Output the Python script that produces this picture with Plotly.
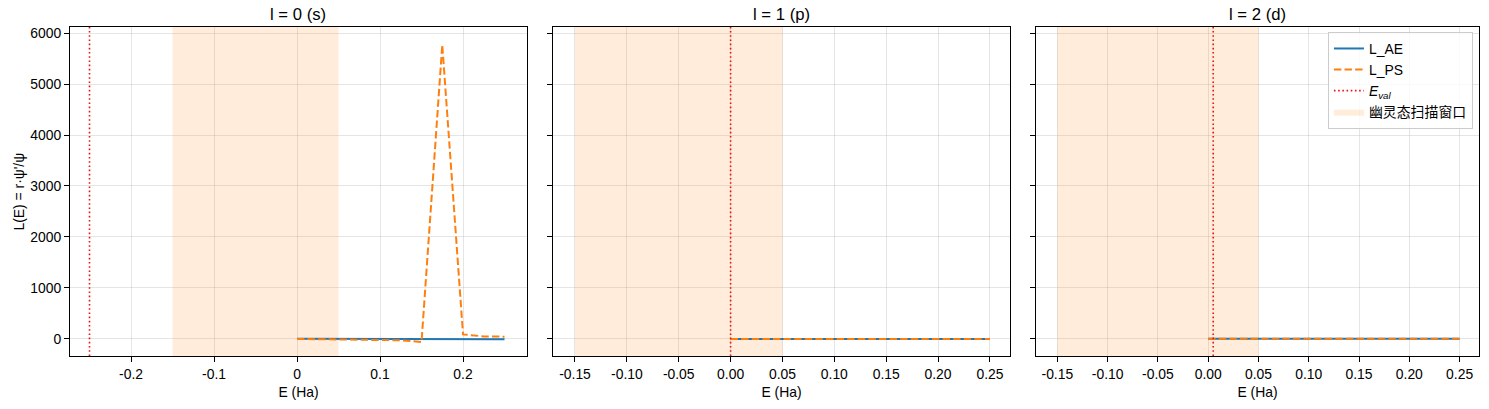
import plotly.graph_objects as go

# ---------------- data ----------------
E_grid = [0.0, 0.025, 0.05, 0.075, 0.1, 0.125, 0.15, 0.175, 0.2, 0.225, 0.25]

L_AE_l0 = [5, 4, 3, 2, 1, 0, -1, -2, -3, -4, -5]
L_PS_l0 = [0, -3, -6, -10, -15, -25, -60, 5770, 90, 50, 45]

L_AE_l1 = [1, 1, 1, 1, 1, 1, 1, 1, 1, 1, 1]
L_PS_l1 = [1, 1, 1, 1, 1, 1, 1, 1, 1, 1, 1]

L_AE_l2 = [2, 2, 2, 2, 2, 2, 2, 2, 2, 2, 2]
L_PS_l2 = [2, 2, 2, 2, 2, 2, 2, 2, 2, 2, 2]

E_val = [-0.25, 0.0, 0.005]
window = [-0.15, 0.05]
titles = ["l = 0 (s)", "l = 1 (p)", "l = 2 (d)"]
y_title = "L(E) = r·ψ'/ψ"
x_title = "E (Ha)"

x_ticks_l0 = [-0.2, -0.1, 0.0, 0.1, 0.2]
x_ticktext_l0 = ["-0.2", "-0.1", "0", "0.1", "0.2"]
x_ticks_l12 = [-0.15, -0.10, -0.05, 0.0, 0.05, 0.10, 0.15, 0.20, 0.25]
x_ticktext_l12 = ["-0.15", "-0.10", "-0.05", "0.00", "0.05", "0.10", "0.15", "0.20", "0.25"]
y_ticks = [0, 1000, 2000, 3000, 4000, 5000, 6000]

x_ranges = [[-0.2735, 0.277], [-0.1712, 0.2693], [-0.1712, 0.2693]]
y_range = [-334, 6118]

# ---------------- figure ----------------
FONT = "Liberation Sans, Arial, Noto Sans CJK SC, sans-serif"
BLUE = "#1f77b4"
ORANGE = "#ff7f0e"

fig = go.Figure()

series = [(L_AE_l0, L_PS_l0), (L_AE_l1, L_PS_l1), (L_AE_l2, L_PS_l2)]
domains = [[0.0, 0.3243], [0.3428, 0.6671], [0.6856, 1.0]]

for i in range(3):
    xa = "x" if i == 0 else f"x{i+1}"
    ya = "y" if i == 0 else f"y{i+1}"
    show = (i == 2)
    ae, ps = series[i]
    fig.add_trace(go.Scatter(
        x=[window[0], window[1], window[1], window[0], window[0]],
        y=[y_range[0], y_range[0], y_range[1], y_range[1], y_range[0]],
        fill="toself", fillcolor="rgba(255,127,14,0.15)",
        line=dict(width=0), mode="lines", name="幽灵态扫描窗口",
        showlegend=show, legendrank=4, xaxis=xa, yaxis=ya, hoverinfo="skip"))
    fig.add_trace(go.Scatter(
        x=E_grid, y=ae, mode="lines", line=dict(color=BLUE, width=2),
        name="L_AE", showlegend=show, legendrank=1, xaxis=xa, yaxis=ya))
    fig.add_trace(go.Scatter(
        x=E_grid, y=ps, mode="lines",
        line=dict(color=ORANGE, width=2, dash="7.4px,3.2px"),
        name="L_PS", showlegend=show, legendrank=2, xaxis=xa, yaxis=ya))
    fig.add_trace(go.Scatter(
        x=[E_val[i], E_val[i]], y=y_range, mode="lines",
        line=dict(color="#ee1111", width=1.6, dash="1.6px,2.6px"),
        name="<i>E<sub>val</sub></i>", showlegend=show, legendrank=3,
        xaxis=xa, yaxis=ya))

axis_common = dict(
    showline=True, linecolor="black", linewidth=1, mirror=True,
    ticks="outside", ticklen=5, tickwidth=1, tickcolor="black",
    showgrid=True, gridcolor="rgba(176,176,176,0.33)", gridwidth=1,
    zeroline=False, automargin=False,
    tickfont=dict(size=13.9, color="black", family=FONT),
)

layout = dict(
    width=1489, height=409,
    margin=dict(l=70, r=10, t=27, b=53, autoexpand=False),
    plot_bgcolor="white", paper_bgcolor="white",
    font=dict(family=FONT, size=13.9, color="black"),
    legend=dict(
        x=0.9957, y=0.985, xanchor="right", yanchor="top",
        bgcolor="rgba(255,255,255,0.8)", bordercolor="#cccccc", borderwidth=1,
        font=dict(size=13.9, family=FONT), itemwidth=30, tracegroupgap=0,
    ),
    annotations=[],
)

for i in range(3):
    xk = "xaxis" if i == 0 else f"xaxis{i+1}"
    yk = "yaxis" if i == 0 else f"yaxis{i+1}"
    ya_id = "y" if i == 0 else f"y{i+1}"
    xa_id = "x" if i == 0 else f"x{i+1}"
    tv = x_ticks_l0 if i == 0 else x_ticks_l12
    tt = x_ticktext_l0 if i == 0 else x_ticktext_l12
    layout[xk] = dict(
        axis_common, domain=domains[i], anchor=ya_id, range=x_ranges[i],
        tickvals=tv, ticktext=tt,
        title=dict(text=x_title, font=dict(size=13.9, family=FONT), standoff=6),
    )
    layout[yk] = dict(
        axis_common, domain=[0, 1], anchor=xa_id, range=y_range,
        tickvals=y_ticks, showticklabels=(i == 0),
    )
    layout["annotations"].append(dict(
        text=titles[i], xref="paper", yref="paper",
        x=(domains[i][0] + domains[i][1]) / 2, y=1, xanchor="center", yanchor="bottom",
        yshift=1, showarrow=False, font=dict(size=16.7, family=FONT, color="black"),
    ))

# y-axis title placed where the reference has it
layout["annotations"].append(dict(
    text=y_title, xref="paper", yref="paper", x=-0.0369, y=0.5,
    xanchor="center", yanchor="middle", textangle=-90, showarrow=False,
    font=dict(size=13.9, family=FONT, color="black"),
))

fig.update_layout(**layout)
# remove the default 8px page margin so the 1489x409 figure fills the window exactly
fig.write_html("out.html", config={"displayModeBar": False},
               post_script="document.body.style.margin='0';")
